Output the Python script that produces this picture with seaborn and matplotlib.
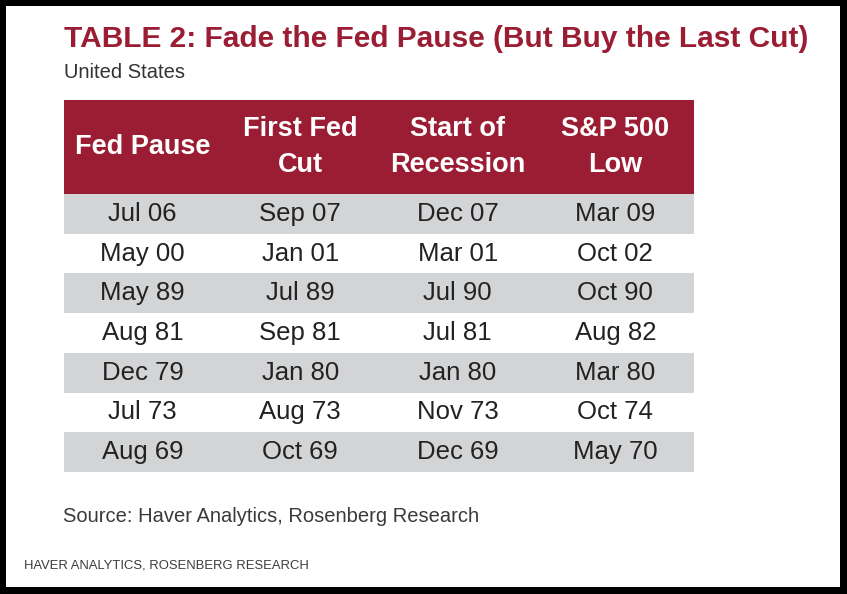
import numpy as np
import matplotlib
matplotlib.use("Agg")
import matplotlib.pyplot as plt
from matplotlib.colors import ListedColormap
from matplotlib.patches import Rectangle
import seaborn as sns

# Table contents
columns = ["Fed Pause", "First Fed\nCut", "Start of\nRecession", "S&P 500\nLow"]
fed_pause = ["Jul 06", "May 00", "May 89", "Aug 81", "Dec 79", "Jul 73", "Aug 69"]
first_cut = ["Sep 07", "Jan 01", "Jul 89", "Sep 81", "Jan 80", "Aug 73", "Oct 69"]
recession_start = ["Dec 07", "Mar 01", "Jul 90", "Jul 81", "Jan 80", "Nov 73", "Dec 69"]
spx_low = ["Mar 09", "Oct 02", "Oct 90", "Aug 82", "Mar 80", "Oct 74", "May 70"]

sns.set_style("white")
plt.rcParams['font.family'] = ['Liberation Sans', 'DejaVu Sans']

RED = "#9B1D33"
GRAY = "#D3D4D6"
W, H = 847, 594


def fx(px):
    return px / W


def fy(py):
    return 1 - py / H


fig = plt.figure(figsize=(W / 100, H / 100), dpi=100, facecolor="black")
fig.add_artist(Rectangle((fx(6), fy(587)), fx(840) - fx(6), fy(6) - fy(587),
                         transform=fig.transFigure, facecolor="white",
                         edgecolor="none", zorder=-10))

# header row
ax_head = fig.add_axes([fx(64), fy(194), fx(694) - fx(64), fy(100) - fy(194)])
sns.heatmap(np.zeros((1, len(columns))), ax=ax_head, cmap=ListedColormap([RED]),
            cbar=False, annot=np.array([columns]), fmt="",
            annot_kws={"size": 19.5, "weight": "bold", "color": "white",
                       "linespacing": 1.45},
            xticklabels=False, yticklabels=False)

# body rows, banded
body = np.array([fed_pause, first_cut, recession_start, spx_low]).T
bands = np.array([[(i + 1) % 2] * len(columns) for i in range(len(fed_pause))])
ax_body = fig.add_axes([fx(64), fy(472), fx(694) - fx(64), fy(194) - fy(472)])
sns.heatmap(bands, ax=ax_body, cmap=ListedColormap(["white", GRAY]),
            vmin=0, vmax=1, cbar=False, annot=body, fmt="",
            annot_kws={"size": 18.5, "color": "#222222"},
            xticklabels=False, yticklabels=False)

# titles and notes
fig.text(fx(64), fy(47), "TABLE 2: Fade the Fed Pause (But Buy the Last Cut)",
         color=RED, fontsize=21.5, fontweight="bold", va="baseline")
fig.text(fx(64), fy(78), "United States", color="#333333", fontsize=14.5,
         va="baseline")
fig.text(fx(63), fy(522), "Source: Haver Analytics, Rosenberg Research",
         color="#3a3a3a", fontsize=14.5, va="baseline")
fig.text(fx(24), fy(568), "HAVER ANALYTICS, ROSENBERG RESEARCH",
         color="#3c3c3c", fontsize=9.4, va="baseline")

fig.savefig("out.png", dpi=100, facecolor="black")
